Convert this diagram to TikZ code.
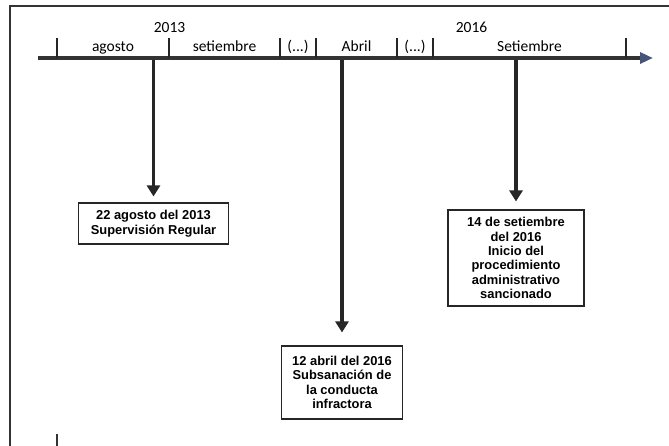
\documentclass[tikz,border=0pt]{standalone}
\usepackage{fontspec}
\setmainfont{Liberation Sans}
\newfontfamily\calib{Carlito}
\newfontfamily\arialf{Liberation Sans}
\usetikzlibrary{arrows.meta}
\definecolor{tipblue}{RGB}{70,85,120}
\tikzset{
  yearlbl/.style={font=\calib\fontsize{15.5}{15.5}\selectfont, anchor=base, inner sep=0pt},
  monthlbl/.style={font=\calib\fontsize{15.5}{15.5}\selectfont, anchor=base, inner sep=0pt},
  tickline/.style={line width=1.3pt, black!85},
  eventbox/.style={draw=black!85, line width=1.1pt, align=center, inner sep=0pt,
     font=\arialf\bfseries\fontsize{12.9}{14.4}\selectfont},
  eventarrow/.style={line width=3.5pt, black!85, -{Triangle[width=13pt,length=11pt]}}
}
\begin{document}
\begin{tikzpicture}[x=1pt,y=-1pt]
\useasboundingbox (0,0) rectangle (669,446);
% frame
\draw[line width=1.5pt, black!80] (10,446) -- (10,6) -- (669,6);
\draw[line width=1.2pt, black!80] (57,434) -- (57,446);
% timeline
\coordinate (tl0) at (38,58);
\coordinate (tl1) at (653,58);
\draw[line width=3.5pt, black!80, -{Triangle[width=11pt,length=13pt,color=tipblue]}] (tl0) -- (tl1);
% ticks
\foreach \x in {57,169,280,316,397,433,626} {
  \draw[tickline] (\x,38) -- (\x,58);
}
% labels
\node[yearlbl] (y13) at (169.5,33) {2013};
\node[yearlbl] (y16) at (471.5,33) {2016};
\node[monthlbl] (m1) at (113,52) {agosto};
\node[monthlbl] (m2) at (224.5,52) {setiembre};
\node[monthlbl] (m3) at (298,52) {(...)};
\node[monthlbl] (m4) at (356.5,52) {Abril};
\node[monthlbl] (m5) at (415,52) {(...)};
\node[monthlbl] (m6) at (529.5,52) {Setiembre};
% boxes
\node[eventbox, minimum width=150pt, minimum height=41pt] (b1) at (153.5,223.5)
  {22 agosto del 2013\\Supervisión Regular};
\node[eventbox, minimum width=121pt, minimum height=73pt] (b2) at (342,382.5)
  {12 abril del 2016\\Subsanación de\\la conducta\\infractora};
\node[eventbox, minimum width=136pt, minimum height=96pt] (b3) at (516,258)
  {14 de setiembre\\del 2016\\Inicio del\\procedimiento\\administrativo\\sancionado};
% arrows
\coordinate (t1) at (153.5,60);
\coordinate (t2) at (342,60);
\coordinate (t3) at (516,60);
\draw[eventarrow, shorten >=6pt] (t1) -- (b1.north);
\draw[eventarrow, shorten >=13pt] (t2) -- (b2.north);
\draw[eventarrow, shorten >=8pt] (t3) -- (b3.north);
\end{tikzpicture}
\end{document}
